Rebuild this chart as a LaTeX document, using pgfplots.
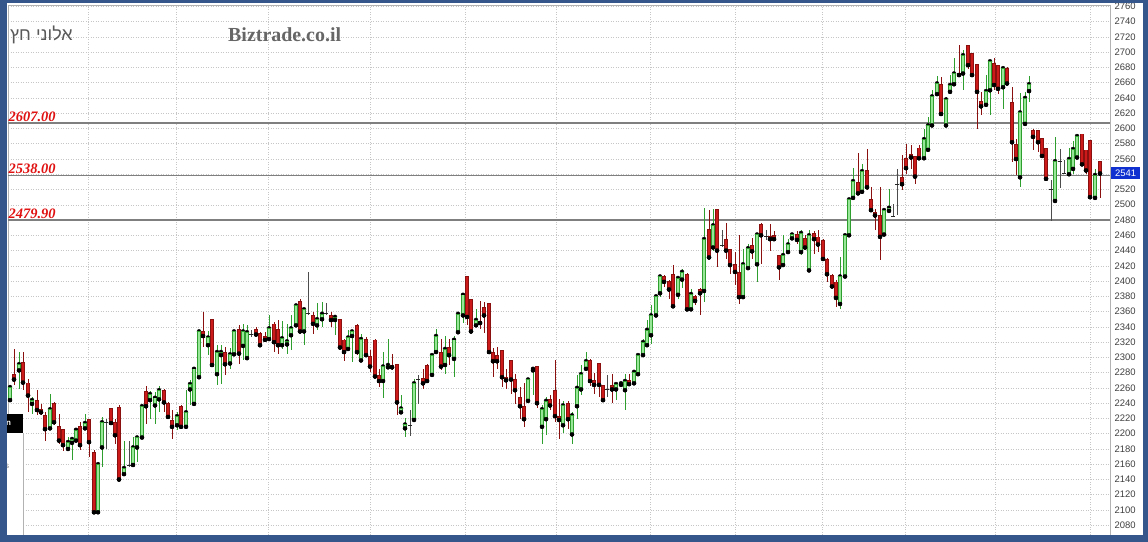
\documentclass[border=0pt]{standalone}
\usepackage{pgfplots}
\pgfplotsset{compat=1.18}
\usepackage{pgfplotstable}
\usepackage{fontspec}
\setmainfont{Liberation Sans}
\newfontfamily\heb[Script=Hebrew]{Liberation Sans}
\newfontfamily\serifb{Liberation Serif}
\TeXXeTstate=1
\definecolor{frameblue}{HTML}{35568A}
\definecolor{upfill}{HTML}{98E698}
\definecolor{upline}{HTML}{2E9E2E}
\definecolor{dnfill}{HTML}{CC1A1A}
\definecolor{dnline}{HTML}{8A1010}
\definecolor{lvl}{HTML}{7F7F7F}
\definecolor{lvltext}{HTML}{E01010}
\definecolor{tagblue}{HTML}{1030D0}

\pgfplotstableread{
x o h l c
10 2244 2264 2241 2261
19 2283 2307 2258 2291
32 2239 2248 2226 2244
50 2207 2252 2206 2232
68 2180 2195 2178 2189
72 2188 2195 2165 2193
76 2191 2206 2189 2205
85 2207 2226 2206 2214
98 2097 2163 2095 2160
102 2182 2222 2156 2215
124 2147 2191 2146 2155
133 2159 2195 2158 2182
137 2182 2196 2163 2195
142 2195 2237 2193 2236
150 2244 2256 2219 2252
155 2237 2254 2212 2247
159 2245 2262 2228 2257
177 2211 2228 2205 2223
186 2209 2257 2207 2228
190 2258 2270 2237 2265
194 2239 2285 2237 2285
199 2274 2334 2271 2334
208 2316 2334 2303 2326
217 2278 2316 2264 2307
221 2303 2316 2265 2307
230 2292 2312 2285 2304
234 2304 2336 2303 2334
243 2315 2344 2296 2334
247 2299 2342 2299 2333
269 2324 2355 2324 2338
282 2316 2347 2311 2325
287 2317 2344 2304 2321
291 2329 2355 2309 2338
296 2342 2368 2340 2368
304 2334 2363 2316 2363
317 2342 2371 2336 2350
322 2350 2372 2340 2357
335 2349 2355 2329 2353
348 2311 2336 2308 2326
352 2328 2336 2294 2334
361 2296 2330 2295 2324
383 2269 2307 2247 2288
388 2287 2324 2286 2290
401 2228 2250 2228 2233
405 2207 2220 2195 2212
414 2218 2271 2216 2266
432 2277 2305 2274 2303
436 2307 2337 2305 2328
445 2290 2328 2278 2311
454 2298 2328 2274 2323
458 2333 2358 2332 2357
463 2355 2383 2345 2382
476 2342 2364 2341 2349
528 2243 2273 2241 2271
533 2283 2286 2250 2285
542 2209 2237 2186 2232
546 2219 2248 2198 2243
563 2211 2243 2201 2237
572 2199 2228 2186 2224
577 2236 2277 2219 2260
581 2258 2290 2250 2278
586 2285 2307 2283 2295
616 2258 2267 2244 2265
621 2264 2267 2261 2266
625 2257 2278 2231 2269
634 2266 2282 2265 2281
638 2278 2304 2277 2303
643 2303 2324 2300 2320
647 2316 2349 2313 2336
651 2329 2368 2317 2355
656 2355 2382 2353 2380
660 2384 2408 2379 2406
678 2382 2405 2376 2404
682 2402 2416 2391 2412
691 2363 2389 2363 2383
704 2387 2496 2372 2455
713 2444 2494 2439 2473
743 2379 2442 2376 2422
748 2417 2448 2416 2443
757 2422 2461 2399 2461
783 2421 2460 2418 2434
788 2438 2455 2435 2448
792 2456 2463 2455 2461
801 2438 2467 2434 2463
809 2414 2467 2412 2460
840 2370 2431 2363 2406
845 2406 2461 2405 2460
849 2460 2509 2459 2507
853 2509 2548 2507 2531
862 2517 2553 2515 2544
884 2461 2494 2460 2493
889 2492 2520 2490 2496
924 2561 2599 2560 2586
928 2572 2615 2570 2604
932 2604 2650 2603 2642
937 2645 2669 2642 2659
946 2604 2641 2603 2638
950 2648 2670 2645 2657
954 2658 2692 2657 2672
963 2672 2703 2650 2696
986 2631 2670 2631 2649
990 2650 2690 2617 2688
1003 2654 2679 2625 2679
1020 2536 2646 2523 2621
1025 2606 2648 2606 2640
1029 2649 2669 2634 2658
1055 2505 2589 2503 2557
1069 2540 2574 2539 2560
1073 2547 2583 2540 2573
1077 2562 2593 2560 2590
1095 2509 2547 2507 2539
}\up

\pgfplotstableread{
x o h l c
14 2278 2311 2264 2271
23 2294 2307 2257 2267
28 2267 2271 2228 2250
37 2244 2257 2224 2231
41 2232 2239 2224 2228
45 2224 2228 2191 2206
54 2240 2241 2211 2215
59 2210 2226 2186 2191
63 2206 2206 2177 2185
80 2210 2215 2178 2185
89 2219 2219 2169 2189
94 2176 2178 2095 2097
111 2233 2233 2211 2214
115 2215 2219 2186 2198
119 2235 2237 2139 2140
146 2256 2262 2212 2236
164 2257 2258 2228 2241
168 2240 2241 2219 2222
172 2218 2231 2193 2209
181 2236 2237 2207 2209
203 2334 2359 2313 2328
212 2350 2350 2287 2290
225 2307 2313 2277 2291
239 2337 2342 2291 2305
256 2337 2340 2329 2330
260 2332 2333 2315 2316
265 2328 2333 2320 2323
274 2344 2346 2307 2320
278 2337 2349 2304 2316
300 2374 2376 2333 2334
313 2355 2359 2330 2344
331 2355 2359 2340 2349
340 2350 2350 2311 2313
344 2323 2324 2295 2307
357 2342 2344 2303 2307
366 2324 2326 2300 2303
370 2302 2309 2281 2288
375 2323 2324 2273 2275
379 2277 2285 2261 2269
392 2290 2305 2283 2287
397 2291 2291 2224 2241
423 2273 2285 2258 2266
427 2290 2291 2267 2269
441 2307 2324 2283 2288
449 2313 2324 2290 2303
467 2406 2406 2342 2353
471 2376 2376 2333 2334
480 2347 2374 2337 2345
484 2366 2372 2332 2355
489 2371 2371 2305 2307
493 2307 2312 2274 2295
497 2303 2313 2285 2295
502 2309 2309 2261 2274
506 2274 2285 2258 2270
511 2296 2296 2252 2271
515 2271 2278 2239 2257
520 2248 2261 2219 2236
524 2236 2267 2209 2219
537 2288 2288 2233 2240
550 2245 2250 2231 2237
555 2257 2296 2215 2223
559 2223 2245 2193 2218
568 2240 2243 2206 2219
590 2296 2298 2262 2269
594 2270 2279 2252 2264
599 2292 2292 2248 2264
603 2264 2264 2241 2244
612 2264 2278 2240 2258
629 2270 2278 2264 2265
664 2406 2408 2392 2399
669 2400 2402 2376 2389
673 2409 2421 2366 2367
687 2409 2410 2362 2363
695 2380 2382 2368 2374
700 2389 2391 2355 2384
709 2468 2493 2429 2431
717 2494 2494 2418 2440
726 2455 2476 2429 2440
730 2442 2442 2409 2421
735 2422 2438 2395 2412
739 2412 2460 2370 2379
752 2447 2456 2429 2439
761 2475 2476 2422 2460
770 2459 2475 2440 2455
774 2460 2465 2454 2455
779 2434 2434 2401 2418
797 2461 2465 2448 2454
805 2456 2460 2443 2444
814 2463 2465 2435 2455
818 2458 2467 2438 2448
823 2454 2455 2426 2429
827 2429 2430 2399 2409
832 2408 2409 2391 2393
836 2399 2401 2366 2378
858 2530 2568 2514 2515
867 2545 2573 2519 2523
871 2507 2523 2490 2493
875 2490 2494 2467 2486
880 2486 2523 2427 2458
902 2536 2565 2519 2527
906 2561 2579 2540 2548
911 2566 2578 2547 2562
915 2564 2564 2527 2537
919 2575 2578 2560 2561
941 2658 2667 2619 2619
959 2672 2709 2667 2670
968 2709 2709 2678 2683
972 2699 2699 2667 2670
977 2684 2684 2599 2648
981 2636 2648 2617 2629
994 2686 2692 2650 2657
998 2683 2683 2645 2652
1007 2679 2680 2657 2659
1012 2634 2654 2556 2582
1016 2579 2586 2539 2560
1033 2598 2599 2572 2589
1038 2598 2598 2569 2582
1042 2587 2587 2562 2564
1046 2574 2574 2532 2534
1082 2593 2593 2553 2553
1086 2572 2572 2540 2545
1090 2585 2585 2509 2510
1100 2557 2557 2509 2541
}\down

\pgfplotstableread{
x c h l
106 2215 2219 2180
129 2159 2191 2156
251 2330 2336 2326
308 2357 2412 2355
326 2357 2371 2355
410 2211 2231 2197
418 2271 2277 2239
607 2258 2277 2248
722 2447 2467 2444
766 2459 2467 2454
893 2485 2501 2484
897 2526 2547 2486
1051 2520 2532 2479
1060 2557 2573 2522
1064 2541 2558 2540
}\doji

\begin{document}
\begin{tikzpicture}[x=1bp,y=1bp]
\path[use as bounding box] (0,0) rectangle (1148,542);
\fill[white] (0,0) rectangle (1148,542);
\begin{axis}[
  at={(8,9)}, anchor=south west, scale only axis,
  width=1102bp, height=530bp,
  xmin=8, xmax=1110, ymin=2067, ymax=2761.6,
  axis line style={draw=gray!60},
  xtick={88,176,268,370,465,556,650,735,822,905,995,1090},
  xticklabels={},
  ytick={2080,2100,...,2760},
  xmajorgrids, ymajorgrids,
  major grid style={gray!45, dash pattern=on 1bp off 1.5bp},
  major tick length=0pt,
  yticklabel pos=right,
  yticklabel style={font=\fontsize{9.5}{10}\selectfont, text=black!75, xshift=1bp},
  clip mode=individual,
  /pgf/number format/assume math mode=true,
  /pgf/number format/1000 sep={},
]
% level lines
\addplot[forget plot, lvl, line width=1.2bp] coordinates {(8,2607) (1110,2607)};
\addplot[forget plot, lvl, line width=1.2bp] coordinates {(8,2538) (1110,2538)};
\addplot[forget plot, lvl, line width=1.2bp] coordinates {(8,2479.9) (1110,2479.9)};
% wicks
\addplot[forget plot, only marks, mark=none, error bars/.cd, y dir=both, y explicit, error mark=none,
  error bar style={upline, line width=1bp}]
  table[x=x, y=c, y error plus expr=\thisrow{h}-\thisrow{c}, y error minus expr=\thisrow{c}-\thisrow{l}] {\up};
\addplot[forget plot, only marks, mark=none, error bars/.cd, y dir=both, y explicit, error mark=none,
  error bar style={dnline, line width=1bp}]
  table[x=x, y=c, y error plus expr=\thisrow{h}-\thisrow{c}, y error minus expr=\thisrow{c}-\thisrow{l}] {\down};
\addplot[forget plot, only marks, mark=-, mark size=1.6bp, mark options={black!85, line width=0.8bp},
  error bars/.cd, y dir=both, y explicit, error mark=none,
  error bar style={black!70, line width=0.9bp}]
  table[x=x, y=c, y error plus expr=\thisrow{h}-\thisrow{c}, y error minus expr=\thisrow{c}-\thisrow{l}] {\doji};
% bodies
\addplot[forget plot, only marks, mark=none, error bars/.cd, y dir=plus, y explicit, error mark=none,
  error bar style={upline, line width=3.4bp}]
  table[x=x, y=o, y error plus expr=\thisrow{c}-\thisrow{o}] {\up};
\addplot[forget plot, only marks, mark=none, error bars/.cd, y dir=plus, y explicit, error mark=none,
  error bar style={upfill, line width=1.8bp, shorten <=0.7bp, shorten >=0.7bp}]
  table[x=x, y=o, y error plus expr=\thisrow{c}-\thisrow{o}] {\up};
\addplot[forget plot, only marks, mark=none, error bars/.cd, y dir=plus, y explicit, error mark=none,
  error bar style={dnline, line width=3.4bp}]
  table[x=x, y=c, y error plus expr=\thisrow{o}-\thisrow{c}] {\down};
\addplot[forget plot, only marks, mark=none, error bars/.cd, y dir=plus, y explicit, error mark=none,
  error bar style={dnfill, line width=1.8bp, shorten <=0.7bp, shorten >=0.7bp}]
  table[x=x, y=c, y error plus expr=\thisrow{o}-\thisrow{c}] {\down};
% level labels
\node[anchor=south west, text=lvltext, font=\serifb\bfseries\itshape\fontsize{14.5}{14.5}\selectfont, inner sep=1.5bp] at (axis cs:7,2607) {2607.00};
\node[anchor=south west, text=lvltext, font=\serifb\bfseries\itshape\fontsize{14.5}{14.5}\selectfont, inner sep=1.5bp] at (axis cs:7,2538) {2538.00};
\node[anchor=south west, text=lvltext, font=\serifb\bfseries\itshape\fontsize{14.5}{14.5}\selectfont, inner sep=1.5bp] at (axis cs:7,2479.9) {2479.90};
% last price tag
\node[anchor=west, fill=tagblue, text=white, font=\fontsize{9.5}{10}\selectfont, inner sep=1.5bp, minimum width=29bp, minimum height=12bp] at (axis cs:1111,2541) {2541};
\end{axis}
% titles
\node[anchor=west, text=black!65, font=\heb\fontsize{18}{18}\selectfont, inner sep=0] at (10,507) {\beginR אלוני חץ\endR};
\node[anchor=west, text=black!60, font=\serifb\bfseries\fontsize{20}{20}\selectfont, inner sep=0] at (228,507) {Biztrade.co.il};
% left overlay
\fill[black] (5,109) rectangle (23,128);
\node[anchor=west, text=white, font=\bfseries\fontsize{8}{8}\selectfont, inner sep=0] at (6,118.5) {n};
\fill[white] (5,7) rectangle (23,109);
\draw[gray!60] (23,7) -- (23,109);
\node[anchor=west, font=\fontsize{8}{8}\selectfont, inner sep=0] at (5,95) {I};
\node[anchor=west, text=gray, font=\fontsize{8}{8}\selectfont, inner sep=0] at (5,76) {s};
% frame
\fill[frameblue] (0,0) rectangle (7,542);
\fill[frameblue] (1143,0) rectangle (1148,542);
\fill[frameblue] (0,0) rectangle (1148,7);
\fill[frameblue] (0,539) rectangle (1148,542);
\end{tikzpicture}
\end{document}
